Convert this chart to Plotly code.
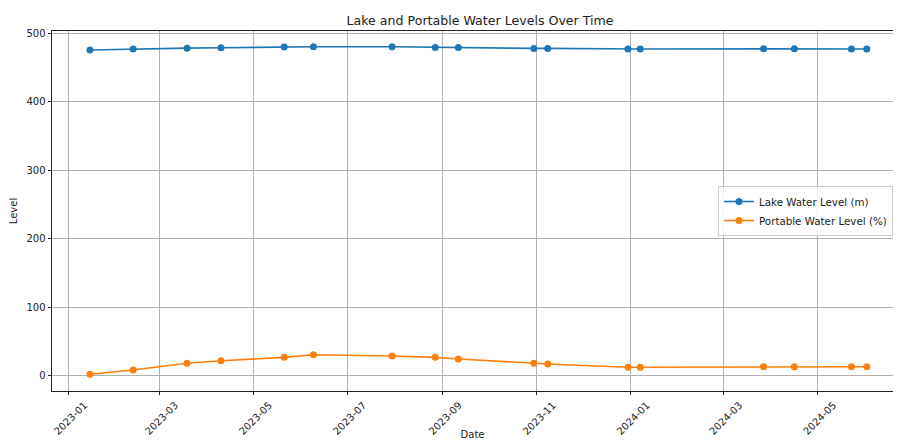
import plotly.graph_objects as go

dates = ["2023-01-15", "2023-02-12", "2023-03-19", "2023-04-10", "2023-05-21",
         "2023-06-09", "2023-07-30", "2023-08-27", "2023-09-11", "2023-10-30",
         "2023-11-08", "2023-12-30", "2024-01-07", "2024-03-27", "2024-04-16",
         "2024-05-23", "2024-06-02"]
lake_level = [475.2, 476.7, 478.0, 478.6, 479.6, 480.0, 480.0, 479.0, 479.0, 477.6,
              477.6, 476.7, 476.7, 477.0, 477.0, 476.7, 476.7]
portable_level = [2.5, 8.7, 18.5, 22.3, 27.2, 31.0, 29.2, 27.2, 24.8, 18.5,
                  17.5, 12.7, 12.7, 13.6, 13.6, 13.4, 13.4]

FONT = "DejaVu Sans"

fig = go.Figure()
fig.add_trace(go.Scatter(
    x=dates, y=lake_level, mode="lines+markers", name="Lake Water Level (m)",
    line=dict(color="#1f77b4", width=1.6), marker=dict(color="#1f77b4", size=7)))
fig.add_trace(go.Scatter(
    x=dates, y=portable_level, mode="lines+markers", name="Portable Water Level (%)",
    line=dict(color="#ff7f0e", width=1.6), marker=dict(color="#ff7f0e", size=7)))

axis_common = dict(showline=True, linecolor="#222222", linewidth=0.9,
                   ticks="outside", ticklen=3.5, tickcolor="#222222", tickwidth=0.9,
                   showgrid=True, gridcolor="#b0b0b0", gridwidth=0.8, zeroline=False,
                   automargin=False,
                   tickfont=dict(family=FONT, size=10, color="#222222"))

fig.update_layout(
    width=885, height=432,
    margin=dict(l=44, r=0, t=23, b=49, autoexpand=False),
    paper_bgcolor="white", plot_bgcolor="white",
    font=dict(family=FONT, size=10, color="#222222"),
    title=dict(text="Lake and Portable Water Levels Over Time", x=0.509, xref="paper",
               y=1 - 12.5 / 432, yref="container", yanchor="middle",
               font=dict(family=FONT, size=12.6, color="#222222")),
    xaxis=dict(**axis_common, mirror=True, type="date",
               range=["2022-12-21 09:00", "2024-06-19"],
               tick0="2023-01-01", dtick="M2", tickformat="%Y-%m", tickangle=-45,
               ticklabelshift=16,
               title=dict(text="Date", standoff=3, font=dict(family=FONT, size=10))),
    yaxis=dict(**axis_common, mirror=False, range=[-21.9, 503], tick0=0, dtick=100,
               title=dict(text="Level", standoff=6, font=dict(family=FONT, size=10))),
    legend=dict(x=1.0, xanchor="right", y=0.5, yanchor="middle",
                bgcolor="rgba(255,255,255,0.85)", bordercolor="#cccccc", borderwidth=1,
                font=dict(family=FONT, size=10.3), itemwidth=30, tracegroupgap=0),
    showlegend=True,
)

fig.write_html("out.html")
